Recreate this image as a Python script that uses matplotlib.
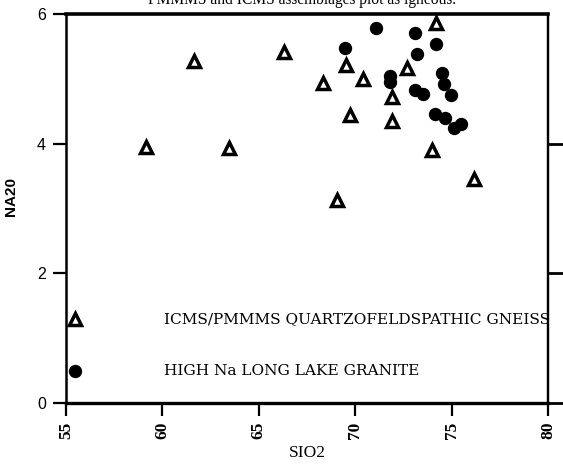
import matplotlib.pyplot as plt

# gneiss samples (open triangles)
gneiss_sio2 = [74.2, 66.3, 69.5, 72.7, 68.35, 70.4, 71.9, 69.75, 71.9, 74.0, 76.15, 69.05, 61.65, 59.15, 63.45]
gneiss_na2o = [5.86, 5.41, 5.21, 5.16, 4.93, 5.00, 4.72, 4.44, 4.35, 3.90, 3.46, 3.13, 5.28, 3.95, 3.94]

# high Na granite samples (filled circles)
granite_sio2 = [71.1, 73.1, 74.2, 69.45, 73.2, 74.5, 71.8, 71.8, 74.6, 73.1, 73.5, 74.95, 74.15, 74.65, 75.1, 75.5]
granite_na2o = [5.79, 5.71, 5.53, 5.47, 5.39, 5.09, 5.05, 4.95, 4.92, 4.83, 4.76, 4.75, 4.46, 4.39, 4.24, 4.30]

# hand drawn key inside the plot
key_x = [55.47, 55.47]
key_y = [1.29, 0.49]
key_labels = ['ICMS/PMMMS QUARTZOFELDSPATHIC GNEISS', 'HIGH Na LONG LAKE GRANITE']

xticks = [55, 60, 65, 70, 75, 80]
yticks = [0, 2, 4, 6]

fig = plt.figure(figsize=(5.63, 4.67), dpi=100)
ax = fig.add_axes([0.1172, 0.137, 0.8562, 0.833])

ax.plot(gneiss_sio2, gneiss_na2o, ls='none', marker='^', ms=9, mfc='white', mec='black', mew=2.5)
ax.plot(granite_sio2, granite_na2o, ls='none', marker='o', ms=8.6, color='black')

ax.plot(key_x[0], key_y[0], ls='none', marker='^', ms=9, mfc='white', mec='black', mew=2.5)
ax.plot(key_x[1], key_y[1], ls='none', marker='o', ms=8.6, color='black')
for yk, lab in zip(key_y, key_labels):
    ax.text(60.1, yk, lab, family='DejaVu Serif', fontsize=11.1, va='center', ha='left', clip_on=True)

ax.set_xlim(55, 80)
ax.set_ylim(0, 6)
ax.set_xticks(xticks)
ax.set_yticks(yticks)
ax.set_xticklabels([str(v) for v in xticks], rotation=90, family='Liberation Serif',
                   fontsize=12.5, fontweight='bold')
ax.set_yticklabels([str(v) for v in yticks], family='Liberation Sans', fontsize=11.5)

for side, lw in [('top', 2.6), ('bottom', 2.4), ('left', 1.8), ('right', 1.6)]:
    ax.spines[side].set_linewidth(lw)

ax.tick_params(axis='x', direction='out', length=9.5, width=1.6, pad=4)
ax.tick_params(axis='y', direction='out', length=9.5, width=1.6, pad=5)

right = ax.secondary_yaxis('right')
right.set_yticks([0, 2, 4])
right.set_yticklabels([])
right.tick_params(direction='out', length=11, width=2)
right.spines['right'].set_linewidth(1.6)

ax.set_xlabel('SIO2', family='Liberation Serif', fontsize=12.5, labelpad=4)
ax.set_ylabel('NA20', family='Liberation Sans', fontsize=11, fontweight='bold')
ax.yaxis.set_label_coords(-0.10, 0.53)

fig.text(0.536, 1 - 4 / 467, 'PMMMS and ICMS assemblages plot as igneous.',
         family='Liberation Serif', fontsize=11.2, ha='center', va='baseline')

fig.savefig('out.png', dpi=100)
